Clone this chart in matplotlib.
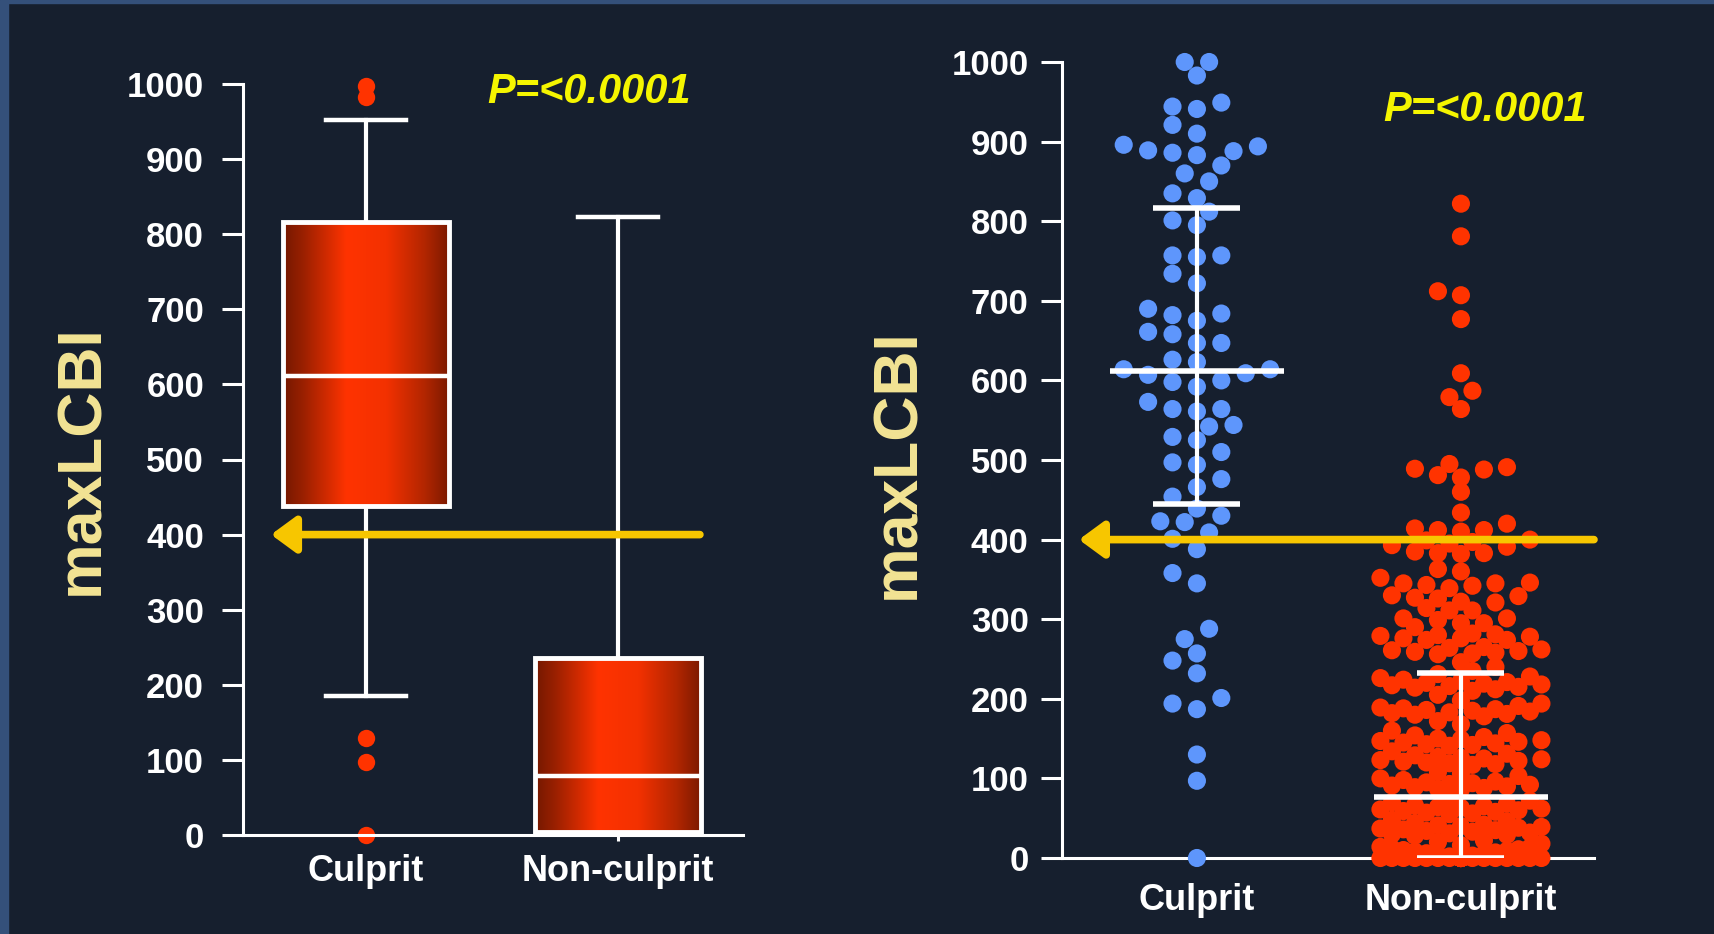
import numpy as np
import matplotlib
matplotlib.use("Agg")
import matplotlib.pyplot as plt
from matplotlib.colors import LinearSegmentedColormap
from matplotlib.patches import Rectangle

BG = "#161f2e"
BORDER = "#34507a"
RED = "#ff3300"
BLUE = "#5e96fc"
ARROW_YELLOW = "#f7c600"
P_YELLOW = "#f5f500"
LABEL_YELLOW = "#f3e494"

CATEGORIES = ["Culprit", "Non-culprit"]
YTICKS = list(range(0, 1001, 100))
P_TEXT = "P=<0.0001"
CUTOFF = 400

# left panel: box plot statistics
BOX_MED = [611, 79]
BOX_Q1 = [438, 4]
BOX_Q3 = [816, 236]
BOX_LO = [185, 4]
BOX_HI = [952, 823]
BOX_FLIERS = [[998, 983, 129, 97, 0], []]

# right panel: individual lesions
CULPRIT_VALS = [1000, 1000, 983, 949, 944, 941, 921, 910, 896, 894, 889, 888,
                886, 883, 870, 860, 850, 835, 829, 812, 801, 795, 757, 757,
                755, 734, 722, 690, 684, 682, 675, 661, 658, 647, 647, 626,
                623, 614, 614, 609, 607, 600, 598, 592, 573, 564, 564, 561,
                544, 542, 529, 525, 510, 497, 494, 476, 466, 454, 439, 430,
                423, 422, 409, 401, 388, 358, 345, 288, 275, 257, 248, 232,
                201, 194, 187, 130, 97, 0]

NONCULPRIT_HIGH = [822, 781, 712, 707, 677, 609, 587, 579, 564,
                   495, 491, 489, 488, 481, 478, 460, 434,
                   420, 414, 412, 412, 410, 400, 399, 397, 395, 393, 391, 385,
                   383, 383, 382, 363, 360, 352, 346, 345, 345, 343, 342, 339,
                   330, 329, 327, 326, 322, 321, 314, 311, 311,
                   301, 301, 299, 295, 295, 290,
                   282, 281, 280, 279, 278, 276, 276, 274, 274,
                   265, 264, 262, 261, 260, 259, 258, 257, 256]
NONCULPRIT_LOW = ([0] * 40 +
                  [1, 2, 3, 4, 5, 6, 7, 8, 9, 10, 11, 12, 13, 14, 16, 18, 20, 22,
                   28, 29, 30, 31, 32, 33, 34, 35, 36, 37, 38, 39, 40, 41, 42, 44,
                   46, 48,
                   55, 56, 57, 58, 59, 60, 61, 62, 63, 64, 65, 66, 68, 70, 72, 74,
                   86, 87, 88, 89, 90, 91, 92, 93, 94, 95, 96, 98, 100, 103,
                   106, 108,
                   117, 118, 119, 120, 121, 122, 123, 124, 125, 126, 127, 129, 131, 134,
                   141, 142, 143, 144, 145, 146, 147, 148, 149, 150, 152, 154, 157, 160,
                   168, 172,
                   178, 180, 181, 182, 183, 184, 185, 186, 187, 188, 189, 191, 194, 198,
                   205,
                   210, 212, 214, 215, 216, 217, 218, 219, 220, 221, 222, 224, 226, 228,
                   231, 235, 240, 246])
NONCULPRIT_VALS = NONCULPRIT_HIGH + NONCULPRIT_LOW

# right panel: median and interquartile range bars
BAR_MED = [612, 77]
BAR_LO = [445, 0]
BAR_HI = [817, 233]

plt.rcParams["font.family"] = ["Liberation Sans", "DejaVu Sans"]
plt.rcParams["font.weight"] = "bold"


def style_axes(ax, xpad, ypad):
    ax.set_facecolor("none")
    for side in ["top", "right"]:
        ax.spines[side].set_visible(False)
    for side in ["left", "bottom"]:
        ax.spines[side].set_color("white")
        ax.spines[side].set_linewidth(2.2)
    ax.set_ylim(0, 1000)
    ax.set_yticks(YTICKS)
    ax.set_xticks([0, 1])
    ax.set_xticklabels(CATEGORIES)
    ax.tick_params(axis="y", colors="white", length=15, width=2.2, pad=ypad, labelsize=25)
    ax.tick_params(axis="x", colors="white", length=4, width=2.2, pad=xpad, labelsize=26)


def swarm_x(ax, center, values, slot_px, dot_px, max_slot):
    vals = np.asarray(values, dtype=float)
    ypx = ax.transData.transform(np.column_stack([np.full(len(vals), center), vals]))[:, 1]
    x_unit = ax.transData.transform([(1, 0)])[0, 0] - ax.transData.transform([(0, 0)])[0, 0]
    slots = [0]
    for k in range(1, max_slot + 1):
        slots += [-k, k]
    px, py = [], []
    xs = np.zeros(len(vals))
    for i in np.argsort(vals, kind="stable"):
        best_k, best_d = 0, -1.0
        for k in slots:
            x = k * slot_px
            if px:
                d = np.min(np.hypot(np.array(px) - x, np.array(py) - ypx[i]))
            else:
                d = np.inf
            if d >= dot_px:
                best_k = k
                break
            if d > best_d:
                best_k, best_d = k, d
        px.append(best_k * slot_px)
        py.append(ypx[i])
        xs[i] = center + best_k * slot_px / x_unit
    return xs


def draw_arrow(ax, tip, tail):
    ax.annotate("", xy=(tip, CUTOFF), xytext=(tail, CUTOFF),
                arrowprops=dict(arrowstyle="-|>,head_length=0.75,head_width=0.55",
                                mutation_scale=20, lw=5.5, color=ARROW_YELLOW,
                                shrinkA=0, shrinkB=0),
                annotation_clip=False, zorder=6)


fig = plt.figure(figsize=(17.14, 9.34), dpi=100, facecolor=BG)
fig.patches.append(Rectangle((0, 0), 8 / 1714, 1, transform=fig.transFigure,
                             color=BORDER, zorder=0))
fig.patches.append(Rectangle((0, 1 - 3 / 934), 1, 3 / 934, transform=fig.transFigure,
                             color=BORDER, zorder=0))

# ---- left: box plot
axL = fig.add_axes([243 / 1714, 1 - 835 / 934, 500 / 1714, 751 / 934])
stats = []
for i in range(2):
    stats.append(dict(med=BOX_MED[i], q1=BOX_Q1[i], q3=BOX_Q3[i],
                      whislo=BOX_LO[i], whishi=BOX_HI[i], fliers=BOX_FLIERS[i]))
bp = axL.bxp(stats, positions=[0, 1], widths=0.66, patch_artist=True,
             boxprops=dict(edgecolor="white", linewidth=3.5),
             medianprops=dict(color="white", linewidth=3.2),
             whiskerprops=dict(color="white", linewidth=3),
             capprops=dict(color="white", linewidth=3.2),
             capwidths=0.32,
             flierprops=dict(marker="o", markerfacecolor=RED, markeredgecolor="none",
                             markersize=12.5))
for fl in bp["fliers"]:
    fl.set_clip_on(False)
cmap = LinearSegmentedColormap.from_list(
    "box", [(0, "#741800"), (0.12, "#9a2000"), (0.38, "#ff3300"),
            (0.62, "#f33100"), (0.85, "#b22600"), (1, "#7a1900")])
grad = np.linspace(0, 1, 256).reshape(1, -1)
for patch in bp["boxes"]:
    ext = patch.get_path().get_extents()
    im = axL.imshow(grad, cmap=cmap, aspect="auto", interpolation="bicubic",
                    extent=(ext.x0, ext.x1, ext.y0, ext.y1), zorder=2)
    im.set_clip_path(patch)
    patch.set_facecolor("none")
    patch.set_zorder(3)
for ln in bp["medians"]:
    ln.set_zorder(4)
style_axes(axL, 10, 13)
axL.set_xlim(-0.488, 1.496)
draw_arrow(axL, -0.377, 1.325)

# ---- right: scatter with median / IQR
axR = fig.add_axes([1062 / 1714, 1 - 858 / 934, 532 / 1714, 796 / 934])
style_axes(axR, 14, 9)
axR.set_xlim(-0.511, 1.504)
xc = swarm_x(axR, 0, CULPRIT_VALS, 12.2, 18, 6)
xn = swarm_x(axR, 1, NONCULPRIT_VALS, 11.5, 14, 7)
axR.scatter(xc, CULPRIT_VALS, s=170, color=BLUE, edgecolors="none", zorder=3, clip_on=False)
axR.scatter(xn, NONCULPRIT_VALS, s=170, color=RED, edgecolors="none", zorder=3, clip_on=False)
for i in range(2):
    axR.vlines(i, BAR_LO[i], BAR_HI[i], color="white", lw=3, zorder=5)
    axR.hlines(BAR_MED[i], i - 0.33, i + 0.33, color="white", lw=4, zorder=5)
    axR.hlines([BAR_LO[i], BAR_HI[i]], i - 0.165, i + 0.165, color="white", lw=4, zorder=5)
draw_arrow(axR, -0.447, 1.504)

# ---- texts
fig.text(82 / 1714, 1 - 460 / 934, "maxLCBI", rotation=90, color=LABEL_YELLOW,
         fontsize=45, ha="center", va="center")
fig.text(898 / 1714, 1 - 464 / 934, "maxLCBI", rotation=90, color=LABEL_YELLOW,
         fontsize=45, ha="center", va="center")
fig.text(589 / 1714, 1 - 92 / 934, P_TEXT, color=P_YELLOW, fontsize=30,
         fontstyle="italic", ha="center", va="center")
fig.text(1485 / 1714, 1 - 110 / 934, P_TEXT, color=P_YELLOW, fontsize=30,
         fontstyle="italic", ha="center", va="center")

fig.savefig("out.png", dpi=100, facecolor=BG)
